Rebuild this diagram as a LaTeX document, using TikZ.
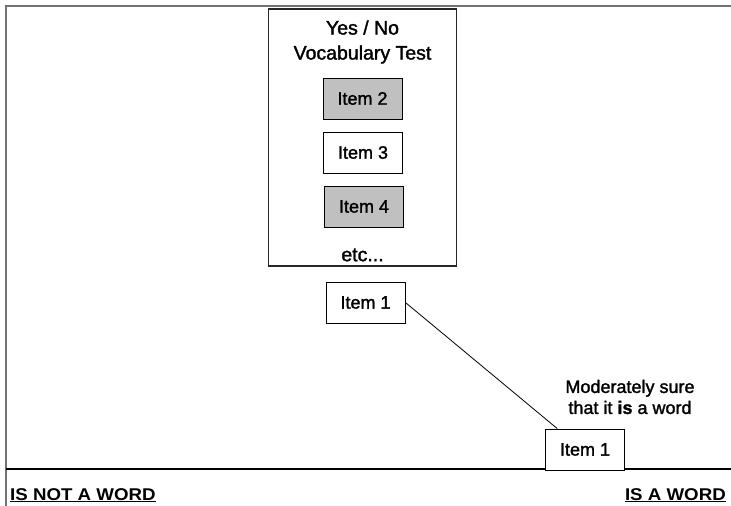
\documentclass[tikz,border=0pt]{standalone}
\usepackage{fontspec}
\setmainfont{Liberation Sans}
\newfontfamily\heavyfont{Liberation Sans}[FakeBold=1.6]
\begin{document}
\begin{tikzpicture}[x=1pt,y=-1pt,
  itembox/.style={draw=black,line width=0.9pt,minimum width=79pt,minimum height=41pt,inner sep=0pt,font=\heavyfont\fontsize{18}{21}\selectfont},
  grayitem/.style={itembox,fill={rgb,255:red,192;green,192;blue,192}},
  txt/.style={inner sep=0pt,font=\heavyfont\fontsize{18}{21}\selectfont},
  titletxt/.style={inner sep=0pt,font=\heavyfont\fontsize{19.5}{25}\selectfont},
  boldlbl/.style={inner sep=0pt,font=\bfseries\fontsize{17}{19}\selectfont}]
\useasboundingbox (0,0) rectangle (731,506);
\fill[white] (0,0) rectangle (731,506);
% frame
\coordinate (ftl) at (6,6);
\coordinate (ftr) at (731,6);
\coordinate (fbl) at (6,506);
\draw[line width=2pt,color={rgb,255:red,115;green,115;blue,115}] (ftr) -- (ftl) -- (fbl);
% base line
\coordinate (bl) at (6,469);
\coordinate (br) at (731,469);
\draw[line width=2.2pt,black] (bl) -- (br);
% big box
\node[draw={rgb,255:red,40;green,40;blue,40},line width=1.1pt,minimum width=188pt,minimum height=257pt,inner sep=0pt] (test) at (362.5,137.5) {};
\node[titletxt,align=center] (title) at (362.5,42) {Yes / No\\Vocabulary Test};
\node[grayitem] (i2) at (362.5,98.5) {Item 2};
\node[itembox] (i3) at (363,152.5) {Item 3};
\node[grayitem] (i4) at (364,206.5) {Item 4};
\node[titletxt] (etc) at (362.5,255) {etc...};
% items 1
\node[itembox,fill=white] (i1a) at (365.5,302.5) {Item 1};
\node[itembox,fill=white] (i1b) at (585,449.5) {Item 1};
\draw[line width=0.8pt] (i1a.east) -- (i1b.143);
\node[txt,align=center] (sure) at (630,397) {Moderately sure\\that it \textbf{is} a word};
% bottom labels
\node[boldlbl,anchor=base west] (notw) at (10,500) {\scalebox{1.1}[1]{\underline{IS NOT A WORD}}};
\node[boldlbl,anchor=base east] (isw) at (726,500) {\scalebox{1.1}[1]{\underline{IS A WORD}}};
\end{tikzpicture}
\end{document}
